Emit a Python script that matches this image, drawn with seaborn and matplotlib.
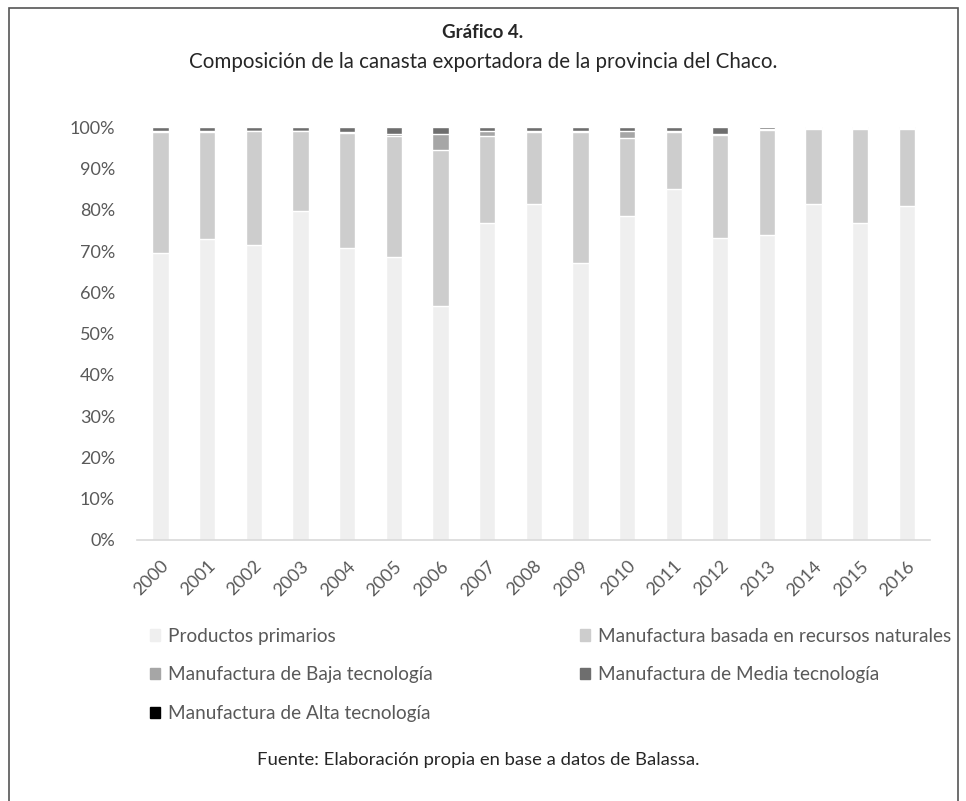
import matplotlib
matplotlib.use("Agg")
import matplotlib.pyplot as plt
import matplotlib.patches as mpatches
import pandas as pd
import seaborn as sns

# Data (share of exports, %)
years = ["2000", "2001", "2002", "2003", "2004", "2005", "2006", "2007", "2008",
         "2009", "2010", "2011", "2012", "2013", "2014", "2015", "2016"]
primarios = [69.6, 73.0, 71.4, 79.7, 70.8, 68.6, 56.7, 76.9, 81.3,
             67.0, 78.5, 85.1, 73.3, 73.9, 81.4, 76.7, 81.0]
recursos = [29.2, 25.8, 27.6, 19.3, 27.8, 29.3, 37.7, 21.1, 17.5,
            31.9, 19.0, 13.8, 24.9, 25.5, 18.1, 22.8, 18.5]
baja = [0.2, 0.2, 0.2, 0.2, 0.2, 0.6, 4.0, 1.1, 0.2,
        0.2, 1.7, 0.2, 0.2, 0.1, 0.1, 0.1, 0.1]
media = [1.0, 1.0, 0.8, 0.8, 1.2, 1.5, 1.6, 0.9, 1.0,
         0.9, 0.8, 0.9, 1.6, 0.5, 0.3, 0.3, 0.3]
alta = [0.0, 0.0, 0.0, 0.0, 0.0, 0.0, 0.0, 0.0, 0.0,
        0.0, 0.0, 0.0, 0.0, 0.0, 0.1, 0.1, 0.1]

labels = ["Productos primarios", "Manufactura basada en recursos naturales",
          "Manufactura de Baja tecnología", "Manufactura de Media tecnología",
          "Manufactura de Alta tecnología"]
colors = ["#efefef", "#cdcdcd", "#a6a6a6", "#6e6e6e", "#000000"]

df = pd.DataFrame({"year": years, labels[0]: primarios, labels[1]: recursos,
                   labels[2]: baja, labels[3]: media, labels[4]: alta})
cum = df[labels].cumsum(axis=1) / 100.0
cum["year"] = df["year"]

sns.set_style("white")
plt.rcParams["font.family"] = ["Lato", "DejaVu Sans"]

fig = plt.figure(figsize=(9.66, 8.01), dpi=100)
ax = fig.add_axes([0.142, 0.326, 0.821, 0.515])

# stacked bars: draw cumulative totals from the top segment down
for lab, col in reversed(list(zip(labels, colors))):
    sns.barplot(data=cum, x="year", y=lab, color=col, width=0.35,
                saturation=1, ax=ax)

ax.set_ylim(0, 1)
ax.set_xlim(-0.5, len(years) - 0.5)
ax.set_yticks([i / 10 for i in range(11)])
ax.set_yticklabels([f"{i * 10}%" for i in range(11)])
ax.set_xlabel("")
ax.set_ylabel("")
ax.tick_params(axis="y", length=0, labelsize=13, labelcolor="#595959", pad=16)
ax.tick_params(axis="x", length=0, labelsize=13, labelcolor="#595959", pad=13)
for t in ax.get_xticklabels():
    t.set_rotation(45)
    t.set_ha("right")
    t.set_rotation_mode("anchor")
sns.despine(ax=ax, left=True)
ax.spines["bottom"].set_color("#d9d9d9")
ax.spines["bottom"].set_linewidth(1.2)

# legend, row-wise order laid out in two columns
handles = [mpatches.Patch(color=c, label=l) for l, c in zip(labels, colors)]
order = [0, 2, 4, 1, 3]
fig.legend([handles[i] for i in order], [labels[i] for i in order],
           ncol=2, loc="upper left", bbox_to_anchor=(0.147, 0.226),
           frameon=False, fontsize=13.7, labelcolor="#595959",
           handlelength=0.55, handleheight=0.55, handletextpad=0.4,
           columnspacing=7.75, labelspacing=1.15, borderaxespad=0)

fig.text(0.5, 0.96, "Gráfico 4.", ha="center", va="center",
         fontsize=13.5, fontweight="bold")
fig.text(0.5, 0.922, "Composición de la canasta exportadora de la provincia del Chaco.",
         ha="center", va="center", fontsize=14.8)
fig.text(0.495, 0.051, "Fuente: Elaboración propia en base a datos de Balassa.",
         ha="center", va="center", fontsize=13.3)

# outer frame
fig.patches.append(mpatches.Rectangle((0.009, -0.05), 0.983, 1.04,
                                      transform=fig.transFigure, fill=False,
                                      edgecolor="#555555", linewidth=1.2))

fig.savefig("out.png", dpi=100)
